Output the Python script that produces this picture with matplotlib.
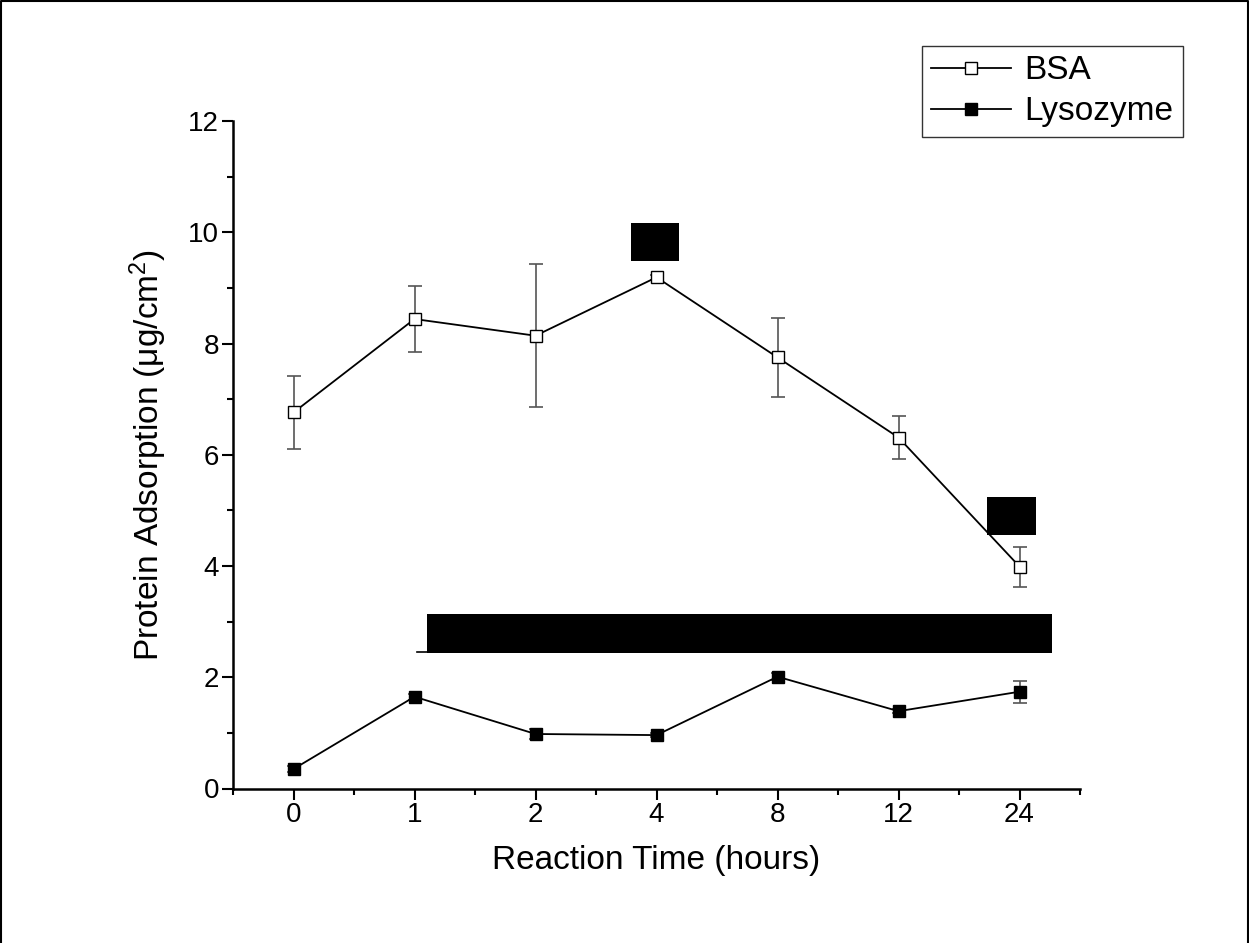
import matplotlib
matplotlib.use("Agg")
import matplotlib.pyplot as plt
from matplotlib.patches import Rectangle
from matplotlib.lines import Line2D
from matplotlib.ticker import MultipleLocator

plt.rcParams['font.family'] = ['Liberation Sans', 'DejaVu Sans']
plt.rcParams['mathtext.default'] = 'regular'

# ---- data ----
times = ['0', '1', '2', '4', '8', '12', '24']
bsa = [6.76, 8.44, 8.14, 9.19, 7.75, 6.31, 3.99]
bsa_err = [0.65, 0.60, 1.29, 0.05, 0.71, 0.38, 0.36]
lys = [0.35, 1.65, 0.98, 0.96, 2.01, 1.39, 1.74]
lys_err = [0.05, 0.05, 0.09, 0.04, 0.06, 0.04, 0.20]

# black boxes covering annotations (data coords: x0, y0, width, height)
boxes = [(2.79, 9.49, 0.40, 0.68), (5.73, 4.56, 0.41, 0.68), (1.10, 2.44, 5.17, 0.70)]
bracket = (1.02, 6.05, 2.45)

W, H = 1249, 943
fig = plt.figure(figsize=(W / 100, H / 100), dpi=100)
ax = fig.add_axes([233 / W, 1 - 788.5 / H, (1080 - 233) / W, (788.5 - 121) / H])

x = list(range(len(times)))

ax.errorbar(x, bsa, yerr=bsa_err, fmt='none', ecolor='#555555', elinewidth=1.2,
            capsize=4.8, capthick=1.2, zorder=2)
ax.errorbar(x, lys, yerr=lys_err, fmt='none', ecolor='#555555', elinewidth=1.2,
            capsize=4.8, capthick=1.2, zorder=2)
ax.plot(x, bsa, '-', color='black', lw=1.3, marker='s', ms=9, mfc='white',
        mec='black', mew=1.0, zorder=3)
ax.plot(x, lys, '-', color='black', lw=1.3, marker='s', ms=9, mfc='black',
        mec='black', mew=1.0, zorder=3)

for (bx, by, bw, bh) in boxes:
    ax.add_patch(Rectangle((bx, by), bw, bh, facecolor='black', edgecolor='none',
                           zorder=5, clip_on=False))
ax.plot([bracket[0], bracket[1]], [bracket[2], bracket[2]], color='black', lw=1.2,
        zorder=4, clip_on=False)

ax.set_xlim(-0.5, 6.5)
ax.set_ylim(0, 12)
ax.set_xticks(x)
ax.set_xticklabels(times)
ax.xaxis.set_minor_locator(MultipleLocator(0.5))
ax.yaxis.set_major_locator(MultipleLocator(2))
ax.yaxis.set_minor_locator(MultipleLocator(1))

for side in ['top', 'right']:
    ax.spines[side].set_visible(False)
for side in ['left', 'bottom']:
    ax.spines[side].set_linewidth(1.8)

ax.tick_params(which='major', direction='out', length=8, width=1.5, labelsize=20, pad=2)
ax.tick_params(which='minor', direction='out', length=4, width=1.5)

ax.set_xlabel('Reaction Time (hours)', fontsize=24, labelpad=12)
ax.set_ylabel('Protein Adsorption (μg/cm$^2$)', fontsize=24, labelpad=14)

handles = [
    Line2D([], [], color='black', lw=1.3, marker='s', ms=8, mfc='white', mec='black', mew=1.0),
    Line2D([], [], color='black', lw=1.3, marker='s', ms=8, mfc='black', mec='black', mew=1.0),
]
leg = ax.legend(handles, ['BSA', 'Lysozyme'], loc='upper right',
                bbox_to_anchor=(1183 / W, 1 - 46 / H),
                bbox_transform=fig.transFigure, borderaxespad=0, fontsize=24,
                frameon=True, fancybox=False, handlelength=2.4, handletextpad=0.4,
                borderpad=0.28, labelspacing=0.3)
leg.get_frame().set_edgecolor('black')
leg.get_frame().set_linewidth(1.0)

# outer frame: left, top, right edges
fig.add_artist(Line2D([0.0012, 0.0012, 0.9988, 0.9988], [0.0, 0.9985, 0.9985, 0.0],
                      transform=fig.transFigure, color='black', lw=1.5))

fig.savefig('out.png', dpi=100, facecolor='white')
